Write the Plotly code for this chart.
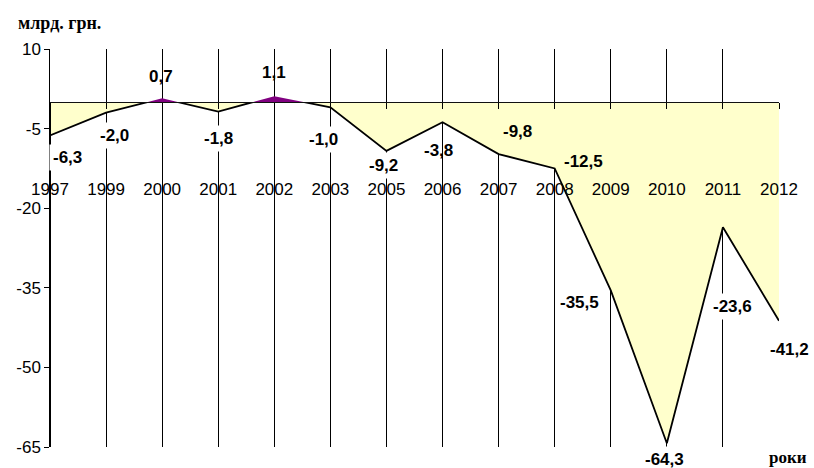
import plotly.graph_objects as go

years = ["1997", "1999", "2000", "2001", "2002", "2003", "2005", "2006",
         "2007", "2008", "2009", "2010", "2011", "2012"]
values = [-6.3, -2.0, 0.7, -1.8, 1.1, -1.0, -9.2, -3.8, -9.8, -12.5,
          -35.5, -64.3, -23.6, -41.2]
y_ticks = [10, -5, -20, -35, -50, -65]
y_ticktext = ["10", "-5", "-20", "-35", "-50", "-65"]

# label placement (pixel offsets from the point) and box style
label_dx = [17, 8, -1, 0, 0, -7, -3, -4, 19, 29, -31, -2, 10, 10]
label_dy = [22, 23, -22, 27, -24, 32, 15, 28, -23, -7, 12, 16, 79, 29]
label_bg = [True, True, False, True, False, True, True, False, False, False,
            True, True, True, True]

W, H = 814, 468
ML, MR, MT, MB = 50, 35, 49, 21
ymin, ymax = -65, 10
zero_frac = (0 - ymin) / (ymax - ymin)

idx = list(range(len(years)))
FONT = "Liberation Sans, Arial, sans-serif"
SERIF = "Liberation Serif, Times New Roman, serif"

fig = go.Figure()
fig.add_trace(go.Scatter(x=idx, y=values, mode="lines", fill="tozeroy",
                         fillcolor="#FFFFCC", line=dict(color="black", width=0),
                         hoverinfo="skip", showlegend=False))
fig.add_trace(go.Scatter(x=idx, y=values, mode="lines", fill="tozeroy",
                         fillcolor="#800080", line=dict(color="#800080", width=0),
                         yaxis="y2", hoverinfo="skip", showlegend=False))
fig.add_trace(go.Scatter(x=idx, y=values, mode="lines",
                         line=dict(color="black", width=1.8),
                         hoverinfo="skip", showlegend=False))

annotations = []
for i, v in enumerate(values):
    txt = f"{v:.1f}".replace(".", ",")
    annotations.append(dict(
        x=i, y=v, xref="x", yref="y", text=f"<b>{txt}</b>", showarrow=False,
        xshift=label_dx[i], yshift=-label_dy[i],
        font=dict(family=FONT, size=17, color="black"),
        bgcolor="white" if label_bg[i] else "rgba(0,0,0,0)", borderpad=3))
annotations.append(dict(
    x=len(years) - 1, y=ymin, xref="x", yref="y", text="<b>роки</b>",
    showarrow=False, xshift=9, yshift=-10,
    font=dict(family=SERIF, size=17, color="black")))

fig.update_layout(
    width=W, height=H,
    margin=dict(l=ML, r=MR, t=MT, b=MB, pad=0, autoexpand=False),
    paper_bgcolor="white", plot_bgcolor="white",
    title=dict(text="<b>млрд. грн.</b>", x=18 / W, xanchor="left",
               y=1 - 23 / H, yanchor="middle",
               font=dict(family=SERIF, size=18, color="black")),
    xaxis=dict(range=[0, len(years) - 1], tickmode="array", tickvals=idx,
               ticktext=years, showgrid=True, gridcolor="black", gridwidth=1.2,
               showline=True, linecolor="black", linewidth=1.5,
               ticks="outside", ticklen=6, tickcolor="black",
               anchor="free", position=zero_frac, zeroline=False,
               ticklabelstandoff=66,
               tickfont=dict(family=FONT, size=17, color="black")),
    yaxis=dict(range=[ymin, ymax], tickmode="array", tickvals=y_ticks,
               ticktext=y_ticktext, anchor="free", position=0,
               showgrid=False, zeroline=False, showline=True,
               linecolor="black", linewidth=1.5, ticks="outside", ticklen=5,
               tickcolor="black",
               tickfont=dict(family=FONT, size=17, color="black")),
    yaxis2=dict(domain=[zero_frac, 1], range=[0, ymax], anchor="x",
                visible=False, showgrid=False, zeroline=False),
    annotations=annotations,
)

fig.write_html("out.html")
